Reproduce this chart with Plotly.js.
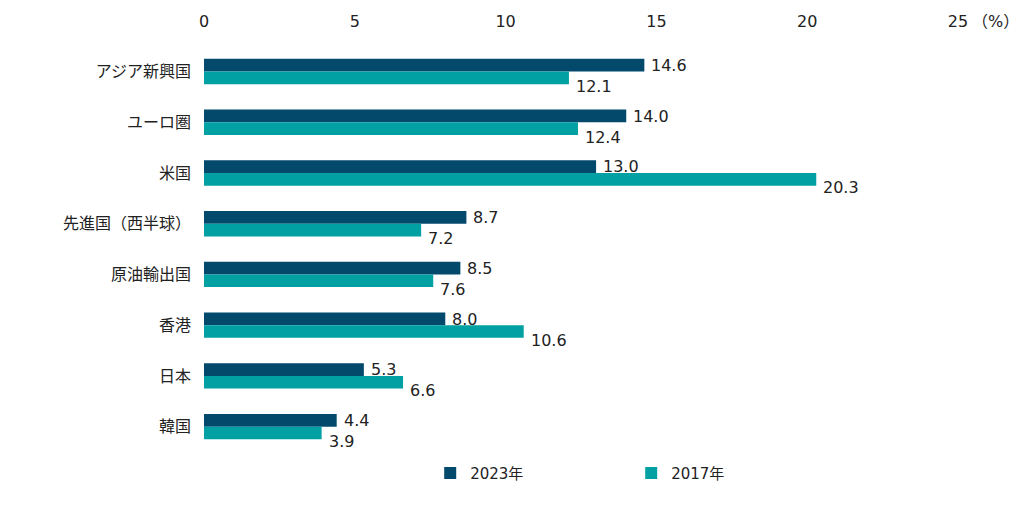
<!DOCTYPE html>
<html>
<head>
<meta charset="utf-8">
<script src="https://cdn.plot.ly/plotly-3.0.1.min.js"></script>
<style>html,body{margin:0;padding:0;background:#fff;}#chart{width:1024px;height:510px;}</style>
</head>
<body>
<div id="chart"></div>
<script>
const categories = ['アジア新興国', 'ユーロ圏', '米国', '先進国（西半球）', '原油輸出国', '香港', '日本', '韓国'];
const values2023 = [14.6, 14.0, 13.0, 8.7, 8.5, 8.0, 5.3, 4.4];
const values2017 = [12.1, 12.4, 20.3, 7.2, 7.6, 10.6, 6.6, 3.9];
const seriesNames = ['2023年', '2017年'];
const tickVals = [0, 5, 10, 15, 20, 25];

const FONT = 'DejaVu Sans, "Noto Sans CJK JP", sans-serif';
const C1 = '#02496c';
const C2 = '#00a0a3';
const TXT = '#222';

const traces = [
  {type: 'bar', orientation: 'h', name: seriesNames[0], y: categories, x: values2023,
   marker: {color: C1}, hoverinfo: 'x+y'},
  {type: 'bar', orientation: 'h', name: seriesNames[1], y: categories, x: values2017,
   marker: {color: C2}, hoverinfo: 'x+y'}
];

const annotations = [];
categories.forEach((c, i) => {
  annotations.push({x: values2023[i], y: c, xref: 'x', yref: 'y', text: values2023[i].toFixed(1),
    showarrow: false, xanchor: 'left', yanchor: 'middle', xshift: 5, yshift: 6,
    font: {family: FONT, size: 16, color: TXT}});
  annotations.push({x: values2017[i], y: c, xref: 'x', yref: 'y', text: values2017[i].toFixed(1),
    showarrow: false, xanchor: 'left', yanchor: 'middle', xshift: 5, yshift: -15,
    font: {family: FONT, size: 16, color: TXT}});
});
annotations.push({x: 25, y: 1, xref: 'x', yref: 'paper', text: '（%）', showarrow: false,
  xanchor: 'left', yanchor: 'middle', xshift: 12, yshift: 24,
  font: {family: FONT, size: 16, color: TXT}});

const layout = {
  width: 1024, height: 510,
  margin: {l: 204, r: 66, t: 45, b: 58},
  paper_bgcolor: '#fff', plot_bgcolor: '#fff',
  font: {family: FONT, size: 16, color: TXT},
  barmode: 'group', bargap: 0.5, bargroupgap: 0,
  xaxis: {side: 'top', range: [0, 25], tickvals: tickVals, ticktext: tickVals.map(String),
    showgrid: false, zeroline: false, showline: false, ticks: '', ticklabelstandoff: 14,
    tickfont: {family: FONT, size: 16, color: TXT}, fixedrange: true},
  yaxis: {autorange: 'reversed', showgrid: false, zeroline: false, showline: false, ticks: '',
    ticklabelstandoff: 12, tickfont: {family: FONT, size: 16, color: TXT}, fixedrange: true},
  showlegend: true,
  legend: {orientation: 'h', x: 0.30, xanchor: 'left', y: -0.052, yanchor: 'middle',
    entrywidth: 156, entrywidthmode: 'pixels', itemwidth: 30,
    font: {family: FONT, size: 15, color: TXT}},
  annotations: annotations
};

Plotly.newPlot('chart', traces, layout, {displayModeBar: false, staticPlot: true});
</script>
</body>
</html>
